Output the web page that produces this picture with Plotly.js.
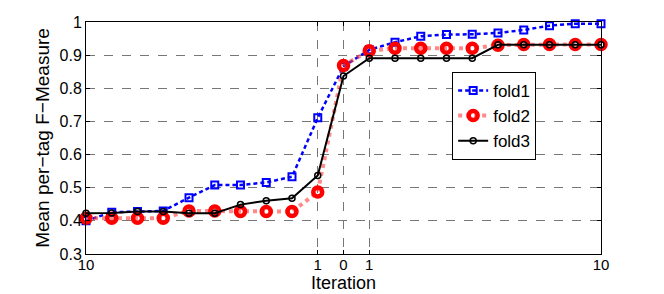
<!DOCTYPE html>
<html>
<head>
<meta charset="utf-8">
<script src="https://cdn.plot.ly/plotly-3.0.1.min.js"></script>
<style>html,body{margin:0;padding:0;background:#fff;}#chart{width:664px;height:294px;}</style>
</head>
<body>
<div id="chart"></div>
<script>
// x positions: iteration steps (indices 0..20), labelled on a mirrored scale
var iterIndex = [0,1,2,3,4,5,6,7,8,9,10,11,12,13,14,15,16,17,18,19,20];
var tickPositions = [0, 9, 10, 11, 20];
var tickLabels = ["10", "1", "0", "1", "10"];

var fold1 = [0.400,0.426,0.428,0.430,0.470,0.508,0.508,0.516,0.533,0.711,0.866,0.916,0.939,0.957,0.962,0.963,0.967,0.976,0.989,0.995,0.995];
var fold2 = [0.408,0.408,0.408,0.408,0.430,0.430,0.428,0.428,0.428,0.487,0.869,0.913,0.921,0.921,0.921,0.921,0.930,0.932,0.932,0.932,0.932];
var fold3 = [0.423,0.424,0.428,0.428,0.423,0.423,0.449,0.461,0.468,0.537,0.837,0.891,0.891,0.891,0.891,0.891,0.931,0.931,0.931,0.931,0.931];

var yTicks = [0.3,0.4,0.5,0.6,0.7,0.8,0.9,1];
var yTickLabels = ["0.3","0.4","0.5","0.6","0.7","0.8","0.9","1"];

var traces = [
  {x: iterIndex, y: fold1, name: "fold1", mode: "lines+markers", cliponaxis: false,
   line: {color: "#0000ff", width: 2.5, dash: "4px,3px"},
   marker: {symbol: "square-open", size: 7, color: "#0000ff", line: {width: 2}}},
  {x: iterIndex, y: fold2, name: "fold2", mode: "lines+markers", cliponaxis: false,
   line: {color: "rgba(255,60,60,0.6)", width: 4, dash: "dot"},
   marker: {symbol: "circle-open", size: 9, color: "#ff0000", line: {width: 4.5}}},
  {x: iterIndex, y: fold3, name: "fold3", mode: "lines+markers", cliponaxis: false,
   line: {color: "#000000", width: 2},
   marker: {symbol: "circle-open", size: 6, color: "#000000", line: {width: 1.5}}}
];

var fam = "Liberation Sans, Arial, Helvetica, sans-serif";

var layout = {
  width: 664, height: 294,
  margin: {l: 86, r: 63, t: 22, b: 40, pad: 0},
  paper_bgcolor: "#fff", plot_bgcolor: "#fff",
  font: {family: fam, color: "#000", size: 16},
  showlegend: true,
  legend: {x: 0.711, y: 0.785, xanchor: "left", yanchor: "top",
           bgcolor: "#fff", bordercolor: "#000", borderwidth: 1,
           font: {family: fam, size: 17, color: "#000"},
           tracegroupgap: 0, itemwidth: 30},
  xaxis: {range: [0, 20], tickmode: "array", tickvals: tickPositions, ticktext: tickLabels,
          showgrid: true, gridcolor: "#777", griddash: "dash", gridwidth: 1,
          zeroline: false, showline: true, linecolor: "#000", linewidth: 1, mirror: "ticks",
          ticks: "inside", ticklen: 4, tickcolor: "#000", ticklabelstandoff: -3,
          tickfont: {family: fam, size: 15, color: "#000"},
          title: {text: "Iteration", font: {family: fam, size: 18, color: "#000"}, standoff: 0}},
  yaxis: {range: [0.3, 1], tickmode: "array", tickvals: yTicks, ticktext: yTickLabels,
          showgrid: true, gridcolor: "#777", griddash: "dash", gridwidth: 1,
          zeroline: false, showline: true, linecolor: "#000", linewidth: 1, mirror: "ticks",
          ticks: "inside", ticklen: 4, tickcolor: "#000",
          tickfont: {family: fam, size: 16, color: "#000"},
          title: {text: "Mean per\u2212tag F\u2212Measure", font: {family: fam, size: 19, color: "#000"}, standoff: 4}}
};

Plotly.newPlot("chart", traces, layout, {displayModeBar: false, staticPlot: true});
</script>
</body>
</html>
